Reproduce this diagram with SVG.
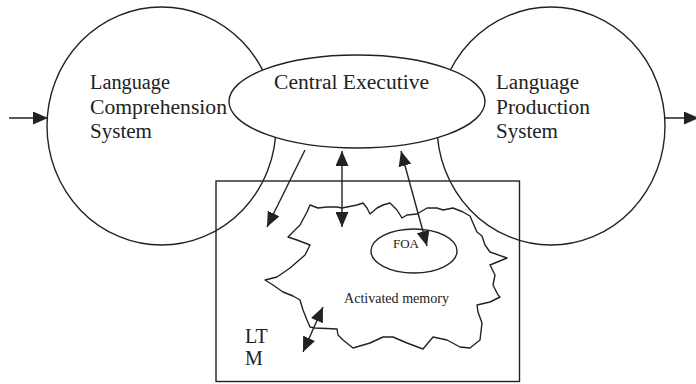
<svg xmlns="http://www.w3.org/2000/svg" width="696" height="384" viewBox="0 0 696 384">
  <style>
    .ln { fill: none; stroke: #222; stroke-width: 1.4; }
    .wh { fill: #fff; stroke: #222; stroke-width: 1.4; }
    .t { font-family: "Liberation Serif", "Times New Roman", serif; fill: #222; }
    .big { font-size: 20px; }
    .sm { font-size: 14px; }
    .xs { font-size: 13px; }
  </style>
  <defs>
    <marker id="ah" markerUnits="userSpaceOnUse" markerWidth="15" markerHeight="13" refX="15" refY="6.5" orient="auto-start-reverse" viewBox="0 0 15 13">
      <path d="M0,0 L15,6.5 L0,13 Z" fill="#222"/>
    </marker>
  </defs>

  <g id="lcs">
    <ellipse class="ln" cx="161.5" cy="126" rx="114.5" ry="119"/>
    <text class="t big" x="90" y="89" textLength="80" lengthAdjust="spacingAndGlyphs">Language</text>
    <text class="t big" x="90" y="114" textLength="137" lengthAdjust="spacingAndGlyphs">Comprehension</text>
    <text class="t big" x="90" y="138" textLength="62" lengthAdjust="spacingAndGlyphs">System</text>
  </g>

  <g id="lps">
    <ellipse class="ln" cx="551" cy="126" rx="114" ry="119"/>
    <text class="t big" x="496" y="89" textLength="83" lengthAdjust="spacingAndGlyphs">Language</text>
    <text class="t big" x="496" y="114" textLength="94" lengthAdjust="spacingAndGlyphs">Production</text>
    <text class="t big" x="496" y="138" textLength="62" lengthAdjust="spacingAndGlyphs">System</text>
  </g>

  <g id="ce">
    <ellipse class="wh" cx="357" cy="101.5" rx="128" ry="46.5"/>
    <text class="t big" x="274" y="89" textLength="155" lengthAdjust="spacingAndGlyphs">Central Executive</text>
  </g>

  <g id="ltm">
    <rect class="ln" x="216" y="181" width="303.5" height="200.5"/>
    <text class="t big" x="245" y="342.5">LT</text>
    <text class="t big" x="245" y="365">M</text>
  </g>

  <g id="am">
    <path class="ln" stroke-linejoin="round" d="M310,205 L318,208 L327,207 L337,207 L342,208 L357,205 L363,203 L367,208 L370,214 L377,208 L383,205 L390,203 L397,210 L402,218 L407,215 L417,214 L427,208 L437,208 L443,210 L453,208 L463,212 L470,216 L473,223 L477,232 L482,236 L485,245 L490,252 L507,258 L490,265 L495,275 L493,285 L498,295 L500,297 L490,302 L477,305 L478,312 L482,323 L480,340 L470,348 L460,347 L447,340 L433,337 L423,349 L407,343 L393,337 L383,337 L370,343 L353,348 L343,340 L338,335 L337,329 L315,328 L310,327 L307,320 L303,310 L300,300 L293,296 L283,292 L273,285 L265,280 L277,277 L290,268 L305,255 L310,245 L297,240 L288,237 L300,225 L307,212 Z"/>
    <text class="t sm" x="344" y="303" textLength="105" lengthAdjust="spacingAndGlyphs">Activated memory</text>
  </g>

  <g id="foa">
    <ellipse class="ln" cx="414" cy="251" rx="43" ry="22"/>
    <text class="t xs" x="406" y="248" text-anchor="middle">FOA</text>
  </g>

  <g id="connectors" class="ln">
    <line x1="9" y1="118" x2="48" y2="118" marker-end="url(#ah)"/>
    <line x1="665" y1="118" x2="699" y2="118" marker-end="url(#ah)"/>
    <line x1="305" y1="150" x2="267" y2="227" marker-end="url(#ah)"/>
    <line x1="342" y1="151" x2="342" y2="227" marker-start="url(#ah)" marker-end="url(#ah)"/>
    <line x1="401" y1="151" x2="427" y2="246" marker-start="url(#ah)" marker-end="url(#ah)"/>
    <line x1="323" y1="307" x2="303" y2="352" marker-start="url(#ah)" marker-end="url(#ah)"/>
  </g>
</svg>
